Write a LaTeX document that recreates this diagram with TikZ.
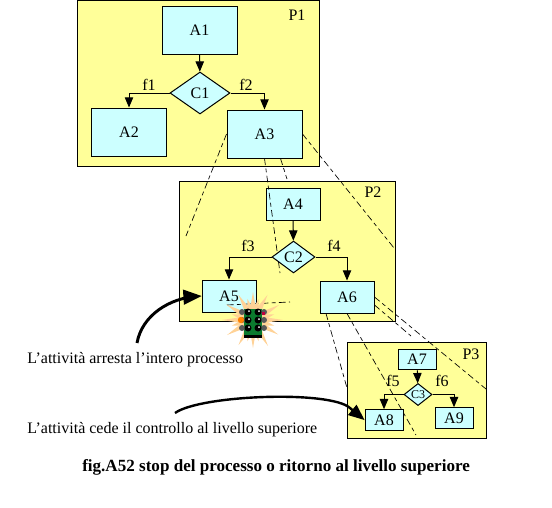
\documentclass[tikz,border=0pt]{standalone}
\usepackage{fontspec}
\setmainfont{Liberation Serif}
\usepackage{tikz}
\usetikzlibrary{shapes}
\usetikzlibrary{arrows}
\definecolor{panelyellow}{HTML}{FFFF99}
\definecolor{boxcyan}{HTML}{CCFFFF}
\definecolor{burstpeach}{HTML}{FFD296}
\definecolor{lightgreen}{HTML}{0B7A2E}
\tikzset{
  label_font/.style = {font=\fontsize{12pt}{14pt}\selectfont},
  panel_node/.style = {rectangle, draw=black, fill=panelyellow, line width=.75pt, inner sep=0pt},
  act_node/.style = {label_font, rectangle, draw=black, fill=boxcyan, line width=.75pt, inner sep=0pt},
  act_large/.style = {act_node, minimum width=56.25pt, minimum height=36pt},
  act_mid/.style = {act_node, minimum width=40.5pt, minimum height=24pt},
  act_small/.style = {act_node, minimum width=28.5pt, minimum height=15.5pt},
  cond_node/.style = {label_font, diamond, draw=black, fill=boxcyan, line width=.75pt, inner sep=0pt},
  name_node/.style = {label_font, inner sep=0pt},
  note_node/.style = {font=\fontsize{12pt}{14pt}\selectfont, anchor=base west, inner sep=0pt},
  flow/.style = {-triangle 45, line width=.75pt},
  level_link/.style = {line width=.5pt, dash pattern=on 5pt off 2.5pt on 3pt off 2.5pt},
  fat_arrow/.style = {-triangle 45, line width=2.2pt}
}
\begin{document}
\begin{tikzpicture}[x=.75pt, y=-.75pt]
  \useasboundingbox (0,0) rectangle (552,507);
  % livello superiore
  \node [panel_node, minimum width=181.5pt, minimum height=124.5pt] (P1) at (198.5,83) {};
  \node [act_large] (A1) at (199.5,30) {A1};
  \node [act_large] (A2) at (129,132) {A2};
  \node [act_large] (A3) at (264.5,134) {A3};
  \node [cond_node, minimum width=45pt, minimum height=31.5pt] (C1) at (200,93) {C1};
  \node [name_node] (lab_P1) at (297,15) {P1};
  \node [name_node] (lab_f1) at (149,85) {f1};
  \node [name_node] (lab_f2) at (246,85) {f2};
  \draw [flow] (A1) -- (C1);
  \draw [flow] (C1.west) -| (A2.north);
  \draw [flow] (C1.east) -| (A3.north);
  % secondo livello
  \node [panel_node, minimum width=162pt, minimum height=105pt] (P2) at (287,251) {};
  \node [act_mid] (A4) at (293,204) {A4};
  \node [act_mid] (A5) at (229,296) {A5};
  \node [act_mid] (A6) at (347,297) {A6};
  \node [name_node] (lab_P2) at (373,192) {P2};
  \node [name_node] (lab_f3) at (248,246) {f3};
  \node [name_node] (lab_f4) at (334,246) {f4};
  % terzo livello
  \node [panel_node, minimum width=104.25pt, minimum height=72pt] (P3) at (416.5,390) {};
  \node [act_small] (A7) at (417,359.5) {A7};
  \node [act_small] (A8) at (384,420) {A8};
  \node [act_small] (A9) at (454,418) {A9};
  \node [name_node] (lab_P3) at (471,354) {P3};
  \node [name_node] (lab_f5) at (393,381) {f5};
  \node [name_node] (lab_f6) at (442,381) {f6};
  % tratteggi tra i livelli
  \coordinate (z1) at (186,236);
  \coordinate (z2) at (280,273);
  \coordinate (z3) at (287,179);
  \coordinate (z4) at (394,248);
  \coordinate (z5) at (416,435);
  \coordinate (z6) at (347,388);
  \coordinate (z7) at (411,336);
  \coordinate (z8) at (486,389);
  \coordinate (z9) at (227,305);
  \coordinate (z10) at (290,302);
  \draw [level_link] (A3.west) -- (z1);
  \draw [level_link] (A3.south) -- (z2);
  \draw [level_link] ([xshift=12pt]A3.south) -- (z3);
  \draw [level_link] (A3.east) -- (z4);
  \draw [level_link] (A6.south) -- (z5);
  \draw [level_link] ([xshift=-15.75pt]A6.south) -- (z6);
  \draw [level_link] ([yshift=-6pt]A6.east) -- (z7);
  \draw [level_link] (A6.east) -- (z8);
  \draw [level_link] (z9) -- (z10);
  % rombi sopra i tratteggi
  \node [cond_node, minimum width=32.25pt, minimum height=24pt] (C2) at (293.5,257) {C2};
  \node [cond_node, minimum width=21pt, minimum height=15.75pt, font=\fontsize{9pt}{10pt}\selectfont] (C3) at (418,394.5) {C3};
  \draw [flow] (A4) -- (C2);
  \draw [flow] (C2.west) -| (A5.north);
  \draw [flow] (C2.east) -| (A6.north);
  \draw [flow] (A7) -- (C3);
  \draw [flow] (C3.west) -| (A8.north);
  \draw [flow] (C3.east) -| (A9.north);
  % semaforo
  \begin{scope}[shift={(253,320)}]
    \foreach \a/\r in {0/30,30/29,60/30,90/28,120/29,150/30,180/31,210/31,240/29,270/28,300/29,330/30,15/22,75/22,105/22,165/22,195/22,255/22,285/22,345/22}
      \fill [burstpeach] (\a-16:11) -- (\a:\r) -- (\a+16:11) -- cycle;
    \fill [burstpeach] (0,0) circle (13);
    \fill [black] (-9,15) rectangle (9,18);
    \fill [lightgreen] (-9,-11) rectangle (9,15);
    \foreach \y in {-8,0,8} {
      \fill [black!65] (-11,\y) circle (3);
      \fill [black!65] (11,\y) circle (3);
      \fill [black] (-5,\y) circle (3.5);
      \fill [black] (5,\y) circle (3.5);
      \fill [white] (-4,\y-1) circle (1);
      \fill [white] (6,\y-1) circle (1);
    }
    \fill [orange] (-12,0) circle (3.2);
    \fill [purple] (9,-8) rectangle (12,-5);
  \end{scope}
  % frecce e testi
  \node [note_node] (nota_stop) at (27,363) {L’attività arresta l’intero processo};
  \node [note_node] (nota_cede) at (27,433) {L’attività cede il controllo al livello superiore};
  \node [note_node, font=\fontsize{12.8pt}{15pt}\selectfont\bfseries] (caption) at (82,471) {fig.A52 stop del processo o ritorno al livello superiore};
  \coordinate (start_stop) at (137,343);
  \coordinate (start_cede) at (175,413);
  \draw [fat_arrow] (start_stop) .. controls (142,315) and (170,298) .. (A5.west);
  \draw [fat_arrow, line width=1.8pt] (start_cede) .. controls (200,395) and (330,390) .. (350,408) -- (A8.west);
\end{tikzpicture}
\end{document}
